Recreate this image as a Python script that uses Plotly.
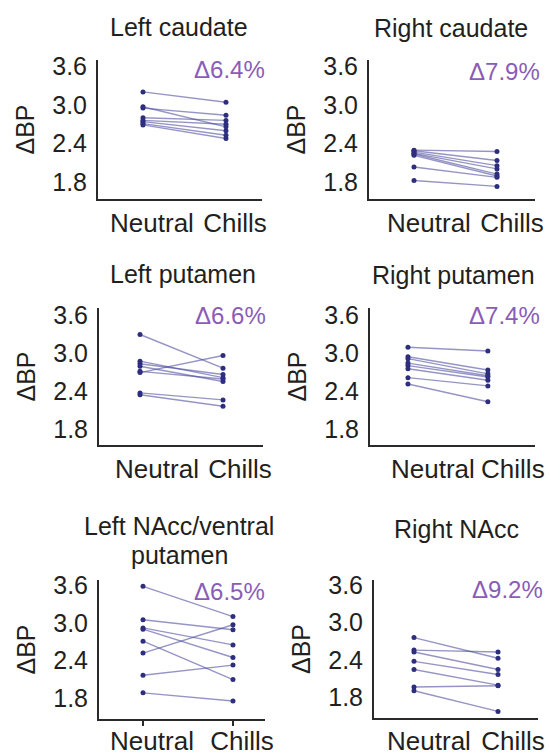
import plotly.graph_objects as go

# ---------------- data ----------------
categories = ["Neutral", "Chills"]
regions = ["Left caudate", "Right caudate", "Left putamen", "Right putamen",
           "Left NAcc/ventral<br>putamen", "Right NAcc"]
deltas = ["Δ6.4%", "Δ7.9%", "Δ6.6%", "Δ7.4%", "Δ6.5%", "Δ9.2%"]
y_ticks = [1.8, 2.4, 3.0, 3.6]

left_caudate_neutral = [3.20, 2.97, 2.95, 2.80, 2.76, 2.74, 2.71, 2.69]
left_caudate_chills = [3.04, 2.66, 2.84, 2.76, 2.70, 2.60, 2.53, 2.48]

right_caudate_neutral = [2.30, 2.29, 2.27, 2.25, 2.24, 2.22, 2.04, 1.83]
right_caudate_chills = [2.28, 2.14, 2.06, 2.01, 1.93, 1.90, 1.88, 1.74]

left_putamen_neutral = [3.30, 2.88, 2.84, 2.80, 2.72, 2.70, 2.38, 2.35]
left_putamen_chills = [2.77, 2.62, 2.67, 2.56, 2.60, 2.97, 2.27, 2.17]

right_putamen_neutral = [3.10, 2.95, 2.92, 2.85, 2.81, 2.76, 2.62, 2.52]
right_putamen_chills = [3.04, 2.74, 2.68, 2.65, 2.63, 2.58, 2.49, 2.24]

left_nacc_neutral = [3.58, 3.05, 2.92, 2.90, 2.71, 2.52, 2.17, 1.89]
left_nacc_chills = [3.10, 2.89, 2.65, 2.45, 2.10, 2.97, 2.33, 1.76]

right_nacc_neutral = [2.76, 2.56, 2.53, 2.38, 2.25, 1.97, 1.91]
right_nacc_chills = [2.43, 2.53, 2.25, 2.17, 2.00, 1.99, 1.58]

panel_data = [
    (left_caudate_neutral, left_caudate_chills),
    (right_caudate_neutral, right_caudate_chills),
    (left_putamen_neutral, left_putamen_chills),
    (right_putamen_neutral, right_putamen_chills),
    (left_nacc_neutral, left_nacc_chills),
    (right_nacc_neutral, right_nacc_chills),
]

# ---------------- layout (pixels) ----------------
W, H = 549, 756
panels = [
    dict(xd=(98, 262), yd=(60, 199), xr=(-0.542, 1.434), yr=(1.545, 3.693), shift=9,
         tx=179, ty=[27], dx=267, dy=70, ticks=False, stand=0),
    dict(xd=(369, 535), yd=(60, 199), xr=(-0.542, 1.458), yr=(1.545, 3.693), shift=15,
         tx=451, ty=[28], dx=542, dy=71, ticks=False, stand=0),
    dict(xd=(99, 263), yd=(308, 445), xr=(-0.494, 1.482), yr=(1.559, 3.718), shift=17,
         tx=183, ty=[274], dx=268, dy=315, ticks=False, stand=0),
    dict(xd=(370, 535), yd=(308, 445), xr=(-0.475, 1.59), yr=(1.559, 3.718), shift=25,
         tx=453, ty=[275], dx=542, dy=315, ticks=False, stand=0),
    dict(xd=(99, 265), yd=(580, 719), xr=(-0.489, 1.356), yr=(1.475, 3.68), shift=9,
         tx=179, ty=[526, 555], dx=267, dy=591, ticks=True, stand=-7),
    dict(xd=(374, 538), yd=(580, 718), xr=(-0.476, 1.476), yr=(1.475, 3.68), shift=15,
         tx=456, ty=[529], dx=545, dy=589, ticks=False, stand=-1),
]

FONT = "Liberation Sans, Arial, Helvetica, sans-serif"
TXT = "#231f20"
LINE_COL = "rgba(72,72,155,0.58)"
MARK_COL = "#2e2e7e"
DELTA_COL = "#8a5cb8"

fig = go.Figure()
annotations = []
layout_axes = {}

for i, (p, (neu, chi), reg, dl) in enumerate(zip(panels, panel_data, regions, deltas)):
    n = i + 1
    xa = "x" if n == 1 else f"x{n}"
    ya = "y" if n == 1 else f"y{n}"
    xs, ys = [], []
    for a, b in zip(neu, chi):
        xs += [0, 1, None]
        ys += [a, b, None]
    fig.add_trace(go.Scatter(
        x=xs, y=ys, xaxis=xa, yaxis=ya, mode="lines+markers",
        line=dict(color=LINE_COL, width=1.4),
        marker=dict(color=MARK_COL, size=5),
        showlegend=False, hoverinfo="skip", cliponaxis=False,
    ))
    xkey = "xaxis" if n == 1 else f"xaxis{n}"
    ykey = "yaxis" if n == 1 else f"yaxis{n}"
    layout_axes[xkey] = dict(
        domain=[p["xd"][0] / W, p["xd"][1] / W], anchor=ya,
        range=list(p["xr"]), showgrid=False, zeroline=False,
        showline=True, linecolor="#2a2a2a", linewidth=2,
        tickmode="array", tickvals=[0, 1], ticktext=categories,
        ticks="outside" if p["ticks"] else "", ticklen=5, tickwidth=2, tickcolor="#2a2a2a",
        ticklabelshift=p["shift"], ticklabelstandoff=p["stand"],
        tickfont=dict(family=FONT, size=26, color=TXT),
    )
    layout_axes[ykey] = dict(
        domain=[1 - p["yd"][1] / H, 1 - p["yd"][0] / H], anchor=xa,
        range=list(p["yr"]), showgrid=False, zeroline=False,
        showline=True, linecolor="#2a2a2a", linewidth=2,
        tickmode="array", tickvals=y_ticks, ticktext=[f"{v:.1f}" for v in y_ticks],
        ticks="", ticklabelstandoff=4,
        tickfont=dict(family=FONT, size=25, color=TXT),
        title=dict(text="ΔBP", font=dict(family=FONT, size=25, color=TXT), standoff=10),
    )
    for line_txt, ty in zip(reg.split("<br>"), p["ty"]):
        annotations.append(dict(
            text=line_txt, xref="paper", yref="paper", x=p["tx"] / W, y=1 - ty / H,
            xanchor="center", yanchor="middle", showarrow=False,
            font=dict(family=FONT, size=25, color=TXT),
        ))
    annotations.append(dict(
        text=dl, xref="paper", yref="paper", x=p["dx"] / W, y=1 - p["dy"] / H,
        xanchor="right", yanchor="middle", showarrow=False,
        font=dict(family=FONT, size=24, color=DELTA_COL),
    ))

fig.update_layout(
    width=W, height=H, template="none",
    margin=dict(l=0, r=0, t=0, b=0),
    paper_bgcolor="white", plot_bgcolor="white",
    annotations=annotations, **layout_axes,
)

fig.write_html(
    "out.html",
    config={"displayModeBar": False, "staticPlot": True},
    post_script="document.body.style.margin='0';document.body.style.overflow='hidden';",
)
